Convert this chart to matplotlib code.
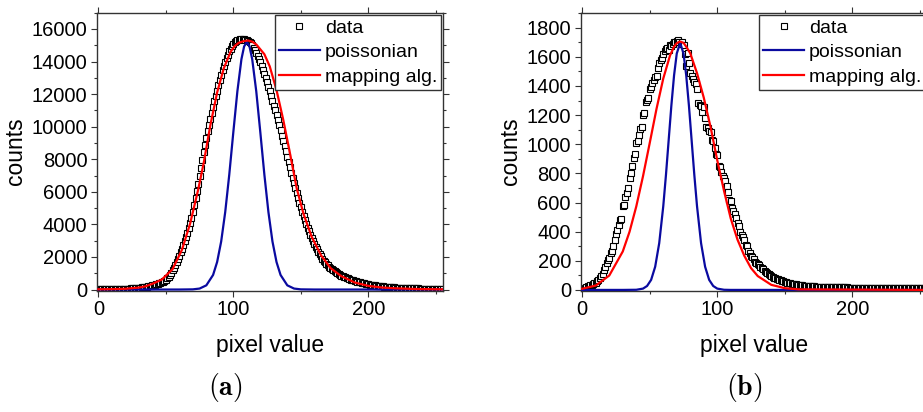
import numpy as np
import matplotlib.pyplot as plt
from matplotlib.ticker import MultipleLocator

plt.rcParams['font.family'] = ['Liberation Sans', 'DejaVu Sans']
plt.rcParams['mathtext.fontset'] = 'cm'

# pixel values 0..255 (one marker per grey level)
pixel = list(range(256))

# panel (a): measured histogram
counts_a = [
    20, 22, 24, 25, 26, 27, 28, 29, 30, 31,
    32, 33, 34, 35, 36, 38, 40, 42, 44, 46,
    48, 51, 55, 60, 66, 73, 80, 87, 93, 100,
    108, 117, 127, 138, 150, 163, 177, 192, 208, 228,
    250, 272, 295, 320, 345, 372, 405, 445, 490, 540,
    600, 690, 790, 900, 1030, 1170, 1320, 1490, 1680, 1870,
    2070, 2280, 2500, 2720, 2950, 3210, 3480, 3770, 4080, 4420,
    4780, 5170, 5590, 6030, 6490, 6970, 7460, 7950, 8430, 8890,
    9330, 9740, 10130, 10500, 10860, 11210, 11550, 11880, 12200, 12530,
    12850, 13170, 13470, 13740, 13990, 14220, 14430, 14620, 14790, 14940,
    15070, 15170, 15250, 15310, 15350, 15380, 15390, 15390, 15380, 15350,
    15300, 15260, 15200, 15110, 15000, 14860, 14700, 14530, 14350, 14150,
    13950, 13730, 13500, 13260, 13000, 12730, 12450, 12180, 11900, 11600,
    11300, 11000, 10700, 10390, 10080, 9770, 9450, 9130, 8800, 8480,
    8150, 7820, 7500, 7170, 6850, 6530, 6220, 5920, 5620, 5330,
    5050, 4780, 4520, 4270, 4030, 3800, 3580, 3370, 3170, 2980,
    2800, 2630, 2470, 2320, 2170, 2030, 1900, 1780, 1670, 1570,
    1480, 1390, 1310, 1240, 1170, 1110, 1050, 1000, 950, 900,
    855, 815, 780, 745, 710, 678, 645, 615, 585, 557,
    530, 505, 480, 457, 435, 415, 395, 375, 355, 337,
    320, 305, 290, 276, 262, 250, 237, 226, 215, 205,
    195, 186, 178, 170, 162, 155, 148, 141, 135, 129,
    123, 117, 112, 107, 102, 98, 94, 90, 87, 83,
    80, 77, 75, 72, 70, 68, 66, 64, 62, 60,
    58, 56, 55, 53, 52, 50, 49, 48, 47, 46,
    45, 44, 43, 42, 41, 40,
]

# panel (a): poissonian curve
pois_x_a = [0, 60, 70, 75, 80, 85, 88, 91, 94, 97, 100, 103, 106, 108, 110,
            112, 114, 117, 120, 123, 126, 129, 132, 135, 140, 145, 150, 160, 256]
pois_y_a = [0, 0, 10, 59, 257, 894, 1690, 2950, 4760, 7060, 9660, 12170, 14140, 14930, 15200,
            14930, 14140, 12170, 9660, 7060, 4760, 2950, 1690, 894, 257, 59, 10, 0, 0]

# panel (a): mapping algorithm curve
map_x_a = [0, 10, 20, 30, 35, 40, 47, 55, 62, 68, 74, 78, 83, 88, 93, 98, 101, 104, 108, 111,
           114, 117, 123, 127, 132, 137, 142, 147, 152, 158, 165, 172, 180, 190, 200, 210, 220, 235, 256]
map_y_a = [15, 25, 45, 120, 200, 350, 610, 1250, 2450, 4050, 6150, 7750, 10100, 12100, 13600, 14600,
           14950, 15150, 15260, 15290, 15220, 15050, 14450, 13700, 12250, 10420, 8350, 6200, 4650,
           3250, 2100, 1320, 820, 430, 225, 125, 75, 32, 12]

# panel (b): measured histogram
counts_b = [
    5, 8, 14, 18, 24, 27, 31, 34, 40, 45,
    50, 58, 66, 80, 96, 112, 138, 160, 186, 205,
    222, 250, 268, 300, 345, 385, 410, 445, 478, 490,
    575, 585, 640, 668, 700, 770, 800, 850, 905, 935,
    1010, 1025, 1060, 1105, 1120, 1200, 1215, 1290, 1305, 1315,
    1380, 1390, 1420, 1440, 1460, 1470, 1520, 1555, 1575, 1590,
    1620, 1640, 1655, 1660, 1650, 1680, 1675, 1690, 1700, 1705,
    1710, 1715, 1700, 1690, 1705, 1680, 1620, 1535, 1625, 1560,
    1490, 1470, 1445, 1430, 1415, 1380, 1285, 1270, 1262, 1220,
    1255, 1180, 1120, 1110, 1090, 1085, 1030, 1025, 975, 930,
    925, 850, 845, 810, 780, 770, 745, 710, 675, 618,
    608, 560, 545, 520, 495, 460, 440, 400, 380, 360,
    340, 310, 300, 270, 255, 235, 225, 210, 195, 185,
    178, 168, 160, 152, 142, 132, 124, 116, 108, 101,
    95, 90, 85, 80, 76, 72, 69, 66, 62, 59,
    56, 53, 50, 48, 46, 44, 42, 40, 38, 36,
    34, 33, 32, 31, 30, 29, 30, 28, 27, 26,
    25, 24, 24, 23, 23, 22, 22, 21, 21, 21,
    20, 20, 20, 19, 19, 19, 19, 18, 18, 18,
    18, 18, 17, 17, 17, 17, 17, 16, 16, 16,
    16, 16, 16, 16, 16, 16, 16, 16, 16, 16,
    16, 16, 15, 15, 15, 15, 15, 15, 15, 15,
    15, 15, 15, 15, 15, 15, 15, 15, 15, 15,
    15, 15, 15, 15, 15, 15, 15, 15, 15, 15,
    15, 15, 15, 15, 15, 15, 15, 15, 15, 15,
    15, 15, 15, 15, 15, 15,
]

# panel (b): poissonian curve
pois_x_b = [0, 30, 40, 45, 48, 51, 54, 57, 60, 62, 64, 66, 68, 70, 72.5,
            75, 77, 79, 81, 83, 85, 88, 91, 94, 97, 100, 105, 110, 256]
pois_y_b = [0, 0, 1, 9, 27, 69, 159, 321, 575, 790, 1028, 1266, 1473, 1623, 1695,
            1623, 1473, 1266, 1028, 790, 575, 321, 159, 69, 27, 9, 1, 0, 0]

# panel (b): mapping algorithm curve
map_x_b = [0, 10, 20, 30, 35, 40, 45, 50, 55, 60, 65, 68, 70, 72.5, 75, 77, 80, 85, 90,
           95, 100, 105, 110, 115, 120, 125, 130, 140, 150, 160, 256]
map_y_b = [8, 30, 99, 264, 399, 573, 781, 1010, 1243, 1451, 1609, 1670, 1694, 1705, 1696, 1670,
           1624, 1488, 1320, 1120, 890, 680, 490, 345, 235, 150, 95, 35, 12, 4, 0]

fig = plt.figure(figsize=(9.23, 4.12), dpi=100)
ax_a = fig.add_axes([0.1054, 0.2949, 0.3749, 0.6743])
ax_b = fig.add_axes([0.6291, 0.2949, 0.3757, 0.6743])

panels = [
    (ax_a, counts_a, pois_x_a, pois_y_a, map_x_a, map_y_a, (-0.8, 255.6), (-60, 17000), 2000, 1000, -0.203, r'$\mathbf{(a)}$', 225),
    (ax_b, counts_b, pois_x_b, pois_y_b, map_x_b, map_y_b, (-1.2, 255.7), (-4, 1903), 200, 100, -0.170, r'$\mathbf{(b)}$', 744),
]

for ax, counts, px, py, mx, my, xl, yl, ymaj, ymin, ylab_x, tag, tag_x in panels:
    ax.plot(pixel, counts, ls='none', marker='s', ms=4.8, mfc='white', mec='black',
            mew=0.8, label='data', zorder=2)
    ax.plot(px, py, color='#0a0aa0', lw=1.6, label='poissonian', zorder=3)
    ax.plot(mx, my, color='#ff0000', lw=1.6, label='mapping alg.', zorder=4)
    ax.set_xlim(*xl)
    ax.set_ylim(*yl)
    ax.xaxis.set_major_locator(MultipleLocator(100))
    ax.xaxis.set_minor_locator(MultipleLocator(50))
    ax.yaxis.set_major_locator(MultipleLocator(ymaj))
    ax.yaxis.set_minor_locator(MultipleLocator(ymin))
    ax.tick_params(which='both', direction='out', top=True, right=True,
                   labeltop=False, labelright=False, width=0.8, color='#333333')
    ax.tick_params(which='major', length=4, labelsize=14.5, pad=3)
    ax.tick_params(which='minor', length=2.2)
    for sp in ax.spines.values():
        sp.set_color('#333333')
        sp.set_linewidth(1.0)
    ax.set_ylabel('counts', fontsize=16.5)
    ax.yaxis.set_label_coords(ylab_x, 0.5)
    ax.set_xlabel('pixel value', fontsize=16.5)
    ax.xaxis.set_label_coords(0.5, -0.155)
    ax.xaxis.label.set_va('top')
    leg = ax.legend(loc='upper right', bbox_to_anchor=(1.0, 1.0), borderaxespad=0.12,
                    fontsize=14, fancybox=False, framealpha=1, edgecolor='#333333',
                    handlelength=2.1, handletextpad=0.25, labelspacing=0.36,
                    borderpad=0.2, numpoints=1)
    leg.get_frame().set_linewidth(1.0)
    fig.text(tag_x / 923, 1 - 388 / 412, tag, fontsize=20, ha='center', va='center')

fig.savefig('out.png', dpi=100)
